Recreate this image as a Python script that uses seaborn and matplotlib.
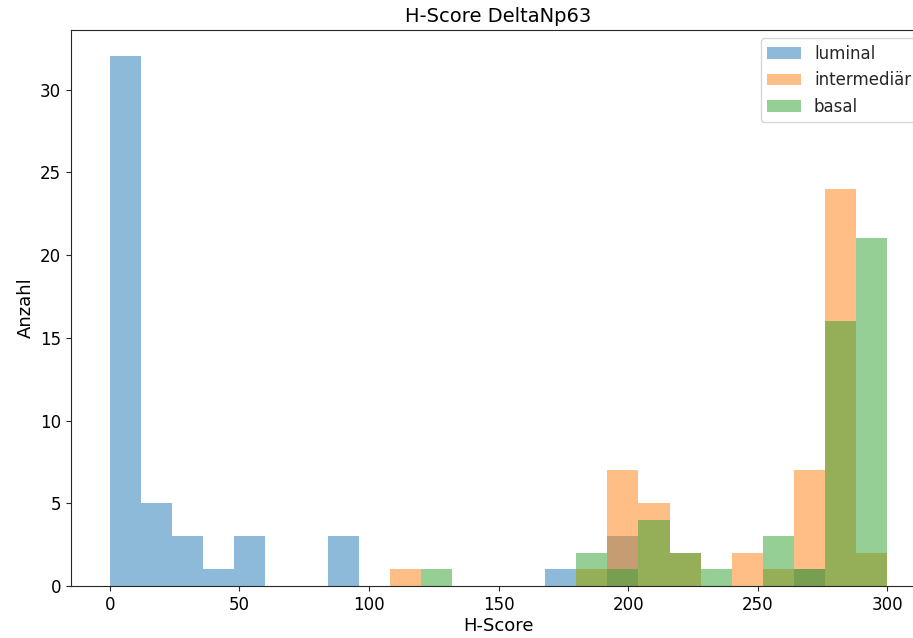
import numpy as np
import pandas as pd
import matplotlib
matplotlib.use("Agg")
import matplotlib.pyplot as plt
import seaborn as sns

# bin edges (width 12, 0..300)
edges = list(range(0, 301, 12))

# counts per bin
luminal = [32, 5, 3, 1, 3, 0, 0, 3, 0, 0, 0, 0, 0, 0, 1, 0, 3, 0, 0, 0, 0, 0, 1, 0, 0]
intermediaer = [0, 0, 0, 0, 0, 0, 0, 0, 0, 1, 0, 0, 0, 0, 0, 1, 7, 5, 2, 0, 2, 1, 7, 24, 2]
basal = [0, 0, 0, 0, 0, 0, 0, 0, 0, 0, 1, 0, 0, 0, 0, 2, 1, 4, 2, 1, 0, 3, 1, 16, 21]

groups = ["luminal", "intermediär", "basal"]
counts = [luminal, intermediaer, basal]
colors = ["#1f77b4", "#ff7f0e", "#2ca02c"]

centers = [e + 6 for e in edges[:-1]]

sns.set_style("ticks")
fig = plt.figure(figsize=(9.13, 6.38), dpi=100)
ax = fig.add_axes([0.0778, 0.0815, 0.9365, 0.8715])

for name, c, col in zip(groups, counts, colors):
    df = pd.DataFrame({"H-Score": centers, "n": c})
    sns.histplot(data=df, x="H-Score", weights="n", bins=edges, ax=ax,
                 color=col, alpha=0.5, linewidth=0, label=name)

ax.set_xlim(-15, 315)
ax.set_ylim(0, 33.6)
ax.set_xticks([0, 50, 100, 150, 200, 250, 300])
ax.set_yticks([0, 5, 10, 15, 20, 25, 30])
ax.tick_params(labelsize=12, labelcolor="black")
ax.set_xlabel("H-Score", fontsize=13, labelpad=2, color="black")
ax.set_ylabel("Anzahl", fontsize=13, color="black")
ax.set_title("H-Score DeltaNp63", fontsize=14, color="black")
ax.legend(loc="upper right", fontsize=12)

fig.savefig("out.png", dpi=100)
